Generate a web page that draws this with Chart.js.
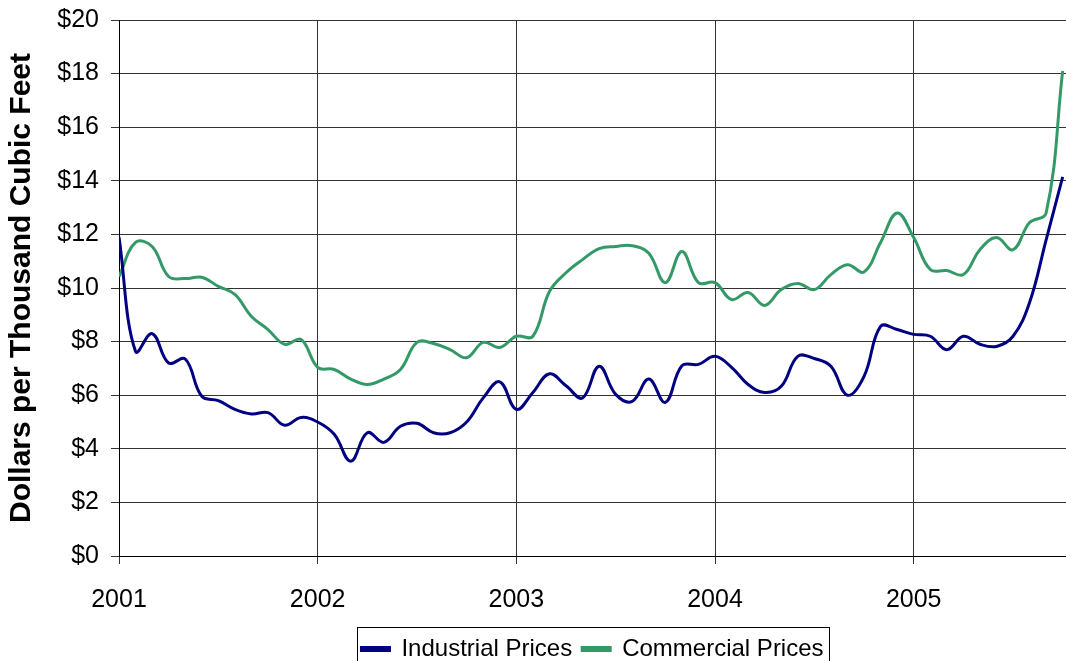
<!DOCTYPE html>
<html>
<head>
<meta charset="utf-8">
<script src="https://cdn.jsdelivr.net/npm/chart.js@4"></script>
<style>
  html, body { margin: 0; padding: 0; background: #fff; overflow: hidden; }
  #wrap { width: 1066px; height: 671px; }
</style>
</head>
<body>
<div id="wrap"><canvas id="lineChart" width="1066" height="671"></canvas></div>
<script>
// monthly prices, Jan 2001 .. Oct 2005
var industrial = [11.9, 7.63, 8.3, 7.2, 7.35, 5.96, 5.8, 5.47, 5.3, 5.35, 4.88, 5.17,
    5.0, 4.54, 3.54, 4.6, 4.24, 4.84, 4.95, 4.6, 4.6, 5.0, 5.9, 6.5,
    5.47, 6.1, 6.8, 6.35, 5.9, 7.08, 6.03, 5.77, 6.6, 5.73, 7.1, 7.15,
    7.45, 7.04, 6.4, 6.1, 6.33, 7.45, 7.37, 7.08, 6.0, 6.7, 8.57, 8.45,
    8.27, 8.2, 7.7, 8.2, 7.9, 7.82, 8.2, 9.46, 11.8, 14.15];
var commercial = [10.43, 11.7, 11.55, 10.43, 10.35, 10.4, 10.06, 9.76, 8.94, 8.45, 7.9, 8.08,
    7.04, 6.96, 6.6, 6.4, 6.6, 6.96, 7.97, 7.93, 7.7, 7.4, 7.97, 7.78,
    8.2, 8.2, 9.87, 10.57, 11.06, 11.47, 11.55, 11.58, 11.3, 10.2, 11.36, 10.2,
    10.2, 9.57, 9.83, 9.35, 9.94, 10.17, 9.94, 10.5, 10.87, 10.6, 11.7, 12.8,
    11.88, 10.69, 10.65, 10.5, 11.43, 11.88, 11.43, 12.44, 12.8, 18.1];
var yearLabels = ["2001", "2002", "2003", "2004", "2005"];
var seriesNames = ["Industrial Prices", "Commercial Prices"];

function toPoints(arr) {
    return arr.map(function (v, i) { return { x: i, y: v }; });
}

// border round the legend, like the old spreadsheet chart
var legendBox = {
    id: 'legendBox',
    afterDraw: function (chart) {
        var boxes = chart.legend.legendHitBoxes;
        if (!boxes || !boxes.length) return;
        var l = Infinity, r = -Infinity, t = Infinity;
        boxes.forEach(function (h) {
            l = Math.min(l, h.left); r = Math.max(r, h.left + h.width);
            t = Math.min(t, h.top);
        });
        var ctx = chart.ctx;
        ctx.save();
        ctx.strokeStyle = '#000';
        ctx.lineWidth = 1;
        ctx.strokeRect(Math.round(l - 4) + 0.5, Math.round(t - 10) + 0.5, Math.round(r - l + 10), 60);
        ctx.restore();
    }
};

var font = "'Liberation Sans', Arial, sans-serif";

new Chart(document.getElementById('lineChart'), {
    type: 'line',
    data: {
        datasets: [{
            label: seriesNames[0],
            data: toPoints(industrial),
            borderColor: '#000080',
            backgroundColor: '#000080',
            borderWidth: 3,
            pointRadius: 0,
            tension: 0.4
        }, {
            label: seriesNames[1],
            data: toPoints(commercial),
            borderColor: '#339966',
            backgroundColor: '#339966',
            borderWidth: 3,
            pointRadius: 0,
            tension: 0.4
        }]
    },
    options: {
        responsive: false,
        animation: false,
        layout: { padding: { top: 20, right: 0, left: 0, bottom: 0 } },
        scales: {
            x: {
                type: 'linear',
                min: 0,
                max: 57.2,
                afterFit: function (s) { s.height = 71; s.paddingLeft = 0; s.paddingRight = 0; },
                ticks: {
                    stepSize: 12,
                    includeBounds: false,
                    color: '#000',
                    padding: 21,
                    maxRotation: 0,
                    font: { family: font, size: 25 },
                    callback: function (v) { return yearLabels[v / 12]; }
                },
                grid: { color: '#333', lineWidth: 1, tickLength: 8 },
                border: { color: '#000', width: 1 }
            },
            y: {
                min: 0,
                max: 20,
                afterFit: function (s) { s.width = 119; s.paddingTop = 0; s.paddingBottom = 0; },
                ticks: {
                    stepSize: 2,
                    color: '#000',
                    padding: 12,
                    font: { family: font, size: 25 },
                    callback: function (v) { return '$' + v; }
                },
                grid: { color: '#333', lineWidth: 1, tickLength: 8 },
                border: { color: '#000', width: 1 },
                title: {
                    display: true,
                    text: 'Dollars per Thousand Cubic Feet',
                    color: '#000',
                    padding: { top: 4, bottom: 0 },
                    font: { family: font, size: 30, weight: 'bold' }
                }
            }
        },
        plugins: {
            legend: {
                position: 'bottom',
                fullSize: false,
                labels: {
                    color: '#000',
                    boxWidth: 28,
                    boxHeight: 3,
                    padding: 10,
                    font: { family: font, size: 24 }
                }
            },
            tooltip: { enabled: false }
        }
    },
    plugins: [legendBox]
});
</script>
</body>
</html>
